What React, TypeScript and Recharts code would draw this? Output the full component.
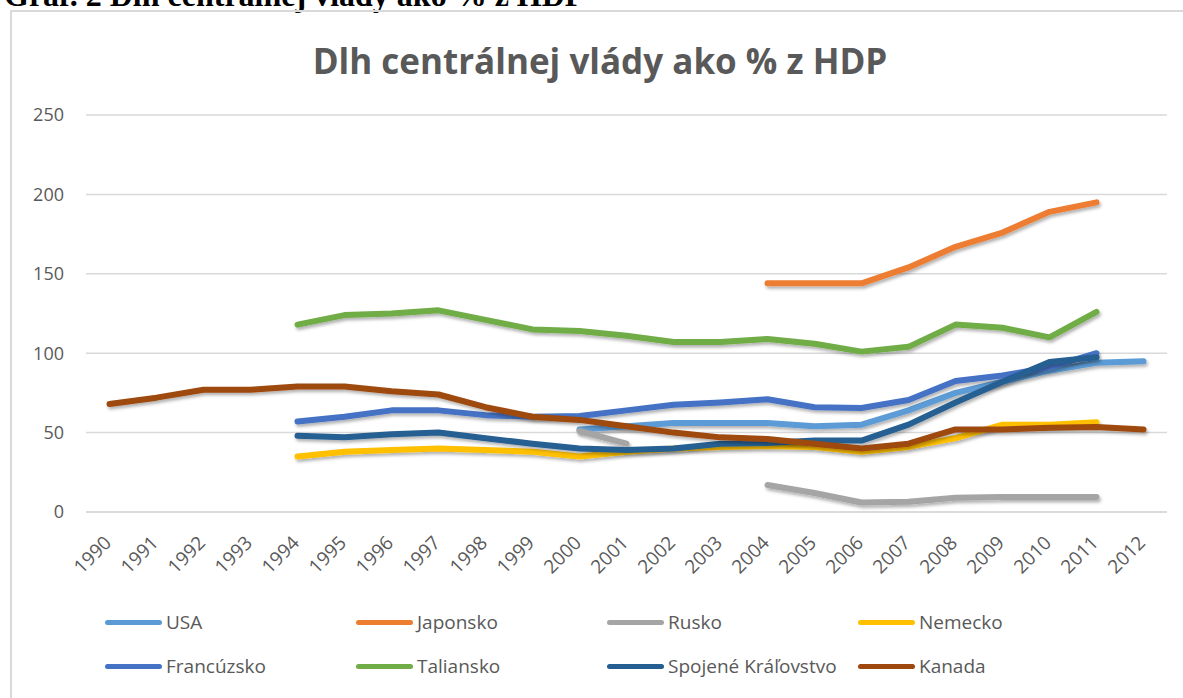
import { LineChart, Line, XAxis, YAxis, CartesianGrid, Legend } from 'recharts';

const years = [
  '1990', '1991', '1992', '1993', '1994', '1995', '1996', '1997', '1998', '1999', '2000', '2001',
  '2002', '2003', '2004', '2005', '2006', '2007', '2008', '2009', '2010', '2011', '2012',
];

const usa = [null, null, null, null, null, null, null, null, null, null, 52, 54, 56, 56, 56, 54, 55, 64, 75, 82, 89, 94, 95];
const japonsko = [null, null, null, null, null, null, null, null, null, null, null, null, null, null, 144, 144, 144, 154, 167, 176, 189, 195, null];
const rusko = [null, null, null, null, null, null, null, null, null, null, 51, 43, null, null, 17, 12, 6, 6.5, 9, 9.5, 9.5, 9.5, null];
const nemecko = [null, null, null, null, 35, 38, 39, 40, 39, 38, 35, 38, 40, 41, 41.5, 41, 38, 41, 46.5, 55, 55, 56.5, null];
const francuzsko = [null, null, null, null, 57, 60, 64, 64, 61, 60, 60.5, 64, 67.5, 69, 71, 66, 65.5, 70.5, 82.5, 86, 91, 100, null];
const taliansko = [null, null, null, null, 118, 124, 125, 127, 121, 115, 114, 111, 107, 107, 109, 106, 101, 104, 118, 116, 110, 126, null];
const spojene = [null, null, null, null, 48, 47, 49, 50, 46.5, 43, 40, 39, 40, 43, 43.5, 45, 45, 55, 69, 82, 94.5, 97.5, null];
const kanada = [68, 72, 77, 77, 79, 79, 76, 74, 66, 60, 58, 54, 50, 47, 46, 43, 40, 43, 52, 52, 53, 53.5, 52];

const yTicks = [0, 50, 100, 150, 200, 250];

const series = [
  { key: 'usa', name: 'USA', color: '#5B9BD5', values: usa },
  { key: 'japonsko', name: 'Japonsko', color: '#ED7D31', values: japonsko },
  { key: 'rusko', name: 'Rusko', color: '#A5A5A5', values: rusko },
  { key: 'nemecko', name: 'Nemecko', color: '#FFC000', values: nemecko },
  { key: 'francuzsko', name: 'Francúzsko', color: '#4472C4', values: francuzsko },
  { key: 'taliansko', name: 'Taliansko', color: '#70AD47', values: taliansko },
  { key: 'spojene', name: 'Spojené Kráľovstvo', color: '#255E91', values: spojene },
  { key: 'kanada', name: 'Kanada', color: '#9E480E', values: kanada },
];

const data = years.map((year, i) => {
  const row: Record<string, string | number | null> = { year };
  series.forEach((s) => {
    row[s.key] = s.values[i];
  });
  return row;
});

const FONT = '"Open Sans", sans-serif';
const GRAY = '#595959';

const YearTick = ({ x, y, payload }: any) => (
  <g transform={`translate(${x + 3},${y + 24})`}>
    <text transform="rotate(-45)" textAnchor="end" fontSize={19} fill={GRAY} fontFamily={FONT}>
      {payload.value}
    </text>
  </g>
);

// keep the legend in series order (recharts sorts it by name otherwise)
const seriesOrder = (name: string) => series.findIndex((s) => s.name === name);

const LegendGrid = ({ payload }: any) => {
  const items = [...(payload || [])].sort((a: any, b: any) => seriesOrder(a.value) - seriesOrder(b.value));
  return (
    <div style={{ position: 'relative', width: 1183, height: 100, fontFamily: FONT }}>
      {items.map((item: any, i: number) => (
        <div
          key={item.value}
          style={{
            position: 'absolute',
            left: 105 + (i % 4) * 251,
            top: 11 + Math.floor(i / 4) * 44,
            display: 'flex',
            alignItems: 'center',
            height: 26,
          }}
        >
          <span
            style={{
              display: 'inline-block',
              width: 57,
              height: 5,
              borderRadius: 3,
              background: item.color,
              marginRight: 4,
            }}
          />
          <span style={{ fontSize: 19, color: GRAY, whiteSpace: 'nowrap' }}>{item.value}</span>
        </div>
      ))}
    </div>
  );
};

export default function App() {
  return (
    <div
      style={{
        position: 'absolute',
        left: 0,
        top: 0,
        width: 1183,
        height: 698,
        overflow: 'hidden',
        background: '#fff',
      }}
    >
      <svg width={1183} height={20} style={{ position: 'absolute', left: 0, top: 0 }}>
        <text x={4} y={6} fontSize={32} fontWeight="bold" fontFamily='"Liberation Serif", serif' fill="#000">
          Graf. 2 Dlh centrálnej vlády ako % z HDP
        </text>
      </svg>
      <div
        style={{
          position: 'absolute',
          left: 10,
          top: 10,
          width: 1220,
          height: 740,
          border: '2px solid #D9D9D9',
        }}
      />
      <svg width={0} height={0} style={{ position: 'absolute' }}>
        <defs>
          <filter id="lineShadow" filterUnits="userSpaceOnUse" x={0} y={0} width={1183} height={698}>
            <feDropShadow dx={1.5} dy={2.5} stdDeviation={1.6} floodColor="#000" floodOpacity={0.3} />
          </filter>
        </defs>
      </svg>
      <div
        style={{
          position: 'absolute',
          left: 0,
          top: 38,
          width: 1200,
          textAlign: 'center',
          fontFamily: FONT,
          fontWeight: 700,
          fontSize: 35,
          color: GRAY,
          lineHeight: '46px',
        }}
      >
        Dlh centrálnej vlády ako % z HDP
      </div>
      <div style={{ position: 'absolute', left: 0, top: 0 }}>
        <LineChart width={1183} height={698} data={data} margin={{ top: 115, right: 16, bottom: 0, left: 0 }}>
          <CartesianGrid vertical={false} stroke="#D9D9D9" strokeWidth={1.5} />
          <XAxis
            dataKey="year"
            height={86}
            padding={{ left: 23.5, right: 23.5 }}
            tickLine={false}
            axisLine={{ stroke: '#D9D9D9', strokeWidth: 1.5 }}
            interval={0}
            tick={<YearTick />}
          />
          <YAxis
            width={86}
            domain={[0, 250]}
            ticks={yTicks}
            tickLine={false}
            axisLine={false}
            tickSize={0}
            tickMargin={22}
            tick={{ fontSize: 18, fill: GRAY, fontFamily: FONT }}
          />
          <Legend verticalAlign="bottom" height={100} content={<LegendGrid />} />
          {series.map((s) => (
            <Line
              key={s.key}
              dataKey={s.key}
              name={s.name}
              stroke={s.color}
              strokeWidth={6}
              strokeLinecap="round"
              strokeLinejoin="round"
              filter="url(#lineShadow)"
              dot={false}
              activeDot={false}
              connectNulls={false}
              isAnimationActive={false}
            />
          ))}
        </LineChart>
      </div>
    </div>
  );
}
